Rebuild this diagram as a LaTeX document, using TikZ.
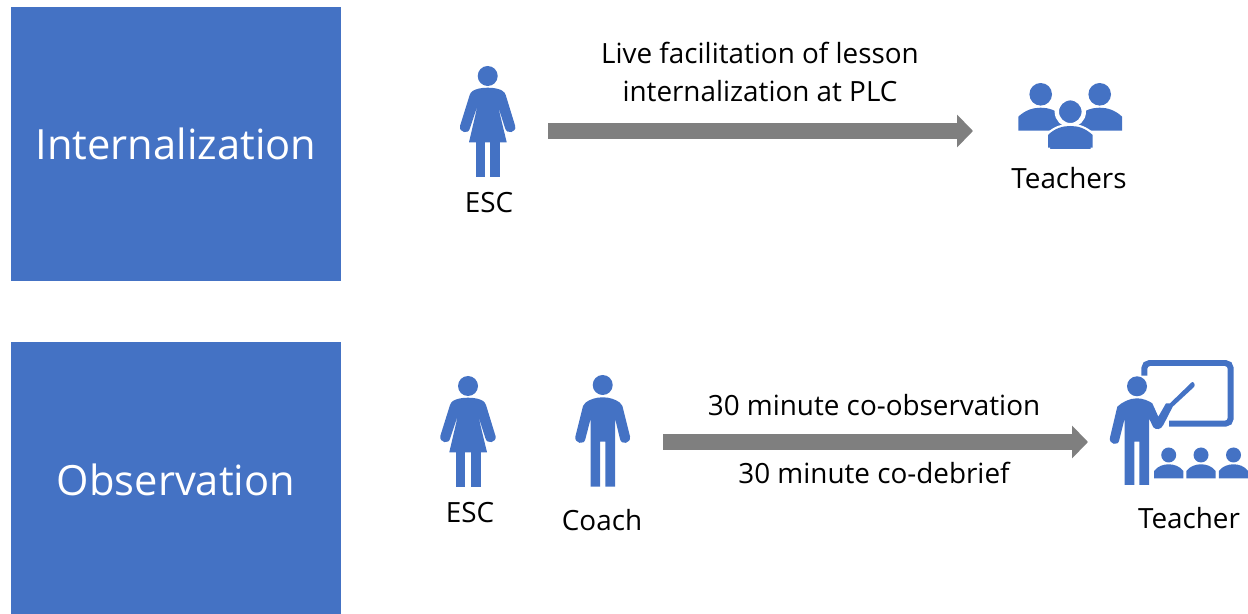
\documentclass[tikz,border=0pt]{standalone}
\usepackage{fontspec}
\usepackage{color}
\usetikzlibrary{arrows.meta}
\setmainfont{Open Sans}
\definecolor{iconblue}{HTML}{4472C4}
\definecolor{arrowgray}{HTML}{7F7F7F}
\tikzset{
  stagebox/.style={fill=iconblue, text=white, font=\fontsize{23.7}{27}\selectfont},
  caption/.style={text=black, font=\fontsize{15.85}{21.6}\selectfont, align=center},
  bigarrow/.style={arrowgray, line width=9.07pt, -{Triangle[length=9.1pt,width=18.2pt]}},
  pics/womanicon/.style={code={
    \fill [iconblue] (0,0) circle (10);
    \fill [iconblue] (0,11.7) .. controls (-7,11.7) and (-12,13) .. (-15,15) .. controls (-16.5,16) and (-17.5,17.5) .. (-18,19) -- (-27.7,50)
      .. controls (-29,56.5) and (-19,59) .. (-17.7,52) -- (-10,29) -- (-18.7,66.3) -- (19,66.3)
      -- (10,29) -- (17.3,52) .. controls (19,59) and (29,56.5) .. (27.5,50) -- (18,19)
      .. controls (17.5,17.5) and (16.5,16) .. (15,15) .. controls (12,13) and (7,11.7) .. (0,11.7) -- cycle;
    \fill [iconblue] (-12,66) rectangle (-2.7,101);
    \fill [iconblue] (2.7,66) rectangle (12.7,101);
  }},
  pics/manicon/.style={code={
    \fill [iconblue] (0,0) circle (10);
    \fill [iconblue] (0,12.3) .. controls (-7,12.3) and (-13,14.5) .. (-17,17.5) .. controls (-18.5,18.5) and (-19.3,19.5) .. (-19.7,21) -- (-27.3,51.5)
      .. controls (-28.5,58.5) and (-18.5,60.5) .. (-17.3,54) -- (-12,33.3) -- (-12,101.7) -- (-2.7,101.7)
      -- (-2.7,56.7) -- (2.7,56.7) -- (2.7,101.7) -- (12.3,101.7) -- (12.3,33.3) -- (17.3,54)
      .. controls (18.5,60.5) and (28.5,58.5) .. (27.3,51.5) -- (19.7,21)
      .. controls (19.3,19.5) and (18.5,18.5) .. (17,17.5) .. controls (13,14.5) and (7,12.3) .. (0,12.3) -- cycle;
  }},
  pics/seatedicon/.style={code={
    \fill [iconblue] (0,0) circle (7.5);
    \fill [iconblue] (-14.7,23.3) -- (-14.7,16) .. controls (-11,11) and (-5,9.3) .. (0,9.3)
      .. controls (5,9.3) and (11,11) .. (14.7,16) -- (14.7,23.3) -- cycle;
  }},
  pics/groupbody/.style={code={
    \fill [iconblue] (-22.4,23) -- (-22.4,9) .. controls (-15,2) and (-7,0) .. (0,0)
      .. controls (7,0) and (15,2) .. (22.4,9) -- (22.4,23) -- cycle;
  }}
}

\begin{document}
\begin{tikzpicture}[x=0.02cm,y=-0.02cm]
   \useasboundingbox (0,0) rectangle (1248,614);
   % left boxes
   \fill [iconblue] (11,7) rectangle (341,281);
   \fill [iconblue] (11,342) rectangle (341,614);
   \node [stagebox] (internalization) at (176,144) {Internalization};
   \node [stagebox] (observation) at (176,480) {Observation};

   % top row
   \pic at (487.7,76) {womanicon};
   \node [caption] (esctop) at (489,203) {ESC};
   \node [caption] (lesson) at (760,72) {Live facilitation of lesson\\internalization at PLC};
   \coordinate (lessonstart) at (548,131);
   \coordinate (lessonend) at (973,131);
   \draw [bigarrow] (lessonstart) -- (lessonend);
   \fill [iconblue] (1040.7,94.3) circle (11.3);
   \fill [iconblue] (1099.7,94.3) circle (11.3);
   \pic at (1040.7,107.7) {groupbody};
   \pic at (1099.7,107.7) {groupbody};
   \fill [iconblue, draw=white, line width=2.5pt] (1070.3,111.7) circle (13.5);
   \draw [white, line width=2.5pt, fill=iconblue] (1048,149) -- (1048,135) .. controls (1055,128) and (1063,126) .. (1070.3,126)
      .. controls (1078,126) and (1085,128) .. (1092.7,135) -- (1092.7,149);
   \fill [iconblue] (1048,135) .. controls (1055,128) and (1063,126) .. (1070.3,126)
      .. controls (1078,126) and (1085,128) .. (1092.7,135) -- (1092.7,147.7) -- (1048,147.7) -- cycle;
   \node [caption] (teachers) at (1069,178) {Teachers};

   % bottom row
   \pic at (468,386) {womanicon};
   \node [caption] (escbottom) at (470,513) {ESC};
   \pic at (602.7,385) {manicon};
   \node [caption] (coach) at (602,520) {Coach};
   \coordinate (coobservestart) at (663,442);
   \coordinate (coobserveend) at (1088,442);
   \draw [bigarrow] (coobservestart) -- (coobserveend);
   \node [caption] (coobserve) at (874,405) {30 minute co-observation};
   \node [caption] (codebrief) at (874,473) {30 minute co-debrief};

   % teacher at the board
   \draw [iconblue, line width=3.4pt, rounded corners=3pt] (1144.3,375.7) -- (1144.3,363) -- (1230.7,363) -- (1230.7,423.7) -- (1169,423.7);
   \fill [iconblue] (1137,386.3) circle (10);
   \fill [iconblue] (1137,398.3) .. controls (1130,398.3) and (1122,402) .. (1117.3,406.7) -- (1110,437.5)
      .. controls (1108.5,444.5) and (1118.5,446.5) .. (1119.3,440) -- (1124.7,418.3) -- (1124.7,485) -- (1134.3,485)
      -- (1134.3,441.7) -- (1139.3,441.7) -- (1139.3,485) -- (1149,485) -- (1149,418.3) -- (1153.3,427.3)
      .. controls (1156,430) and (1161,430) .. (1163.3,425) -- (1172.7,406.7) -- (1194,387)
      .. controls (1196,384.5) and (1193,381) .. (1191.7,382.3) -- (1170,403.3) -- (1166,403.3) -- (1158.3,416.7) -- (1152.3,403.3)
      .. controls (1149,401) and (1143,398.3) .. (1137,398.3) -- cycle;
   \pic at (1168.7,455) {seatedicon};
   \pic at (1201,455) {seatedicon};
   \pic at (1233.5,455) {seatedicon};
   \node [caption] (teacher) at (1189,518) {Teacher};
\end{tikzpicture}
\end{document}
